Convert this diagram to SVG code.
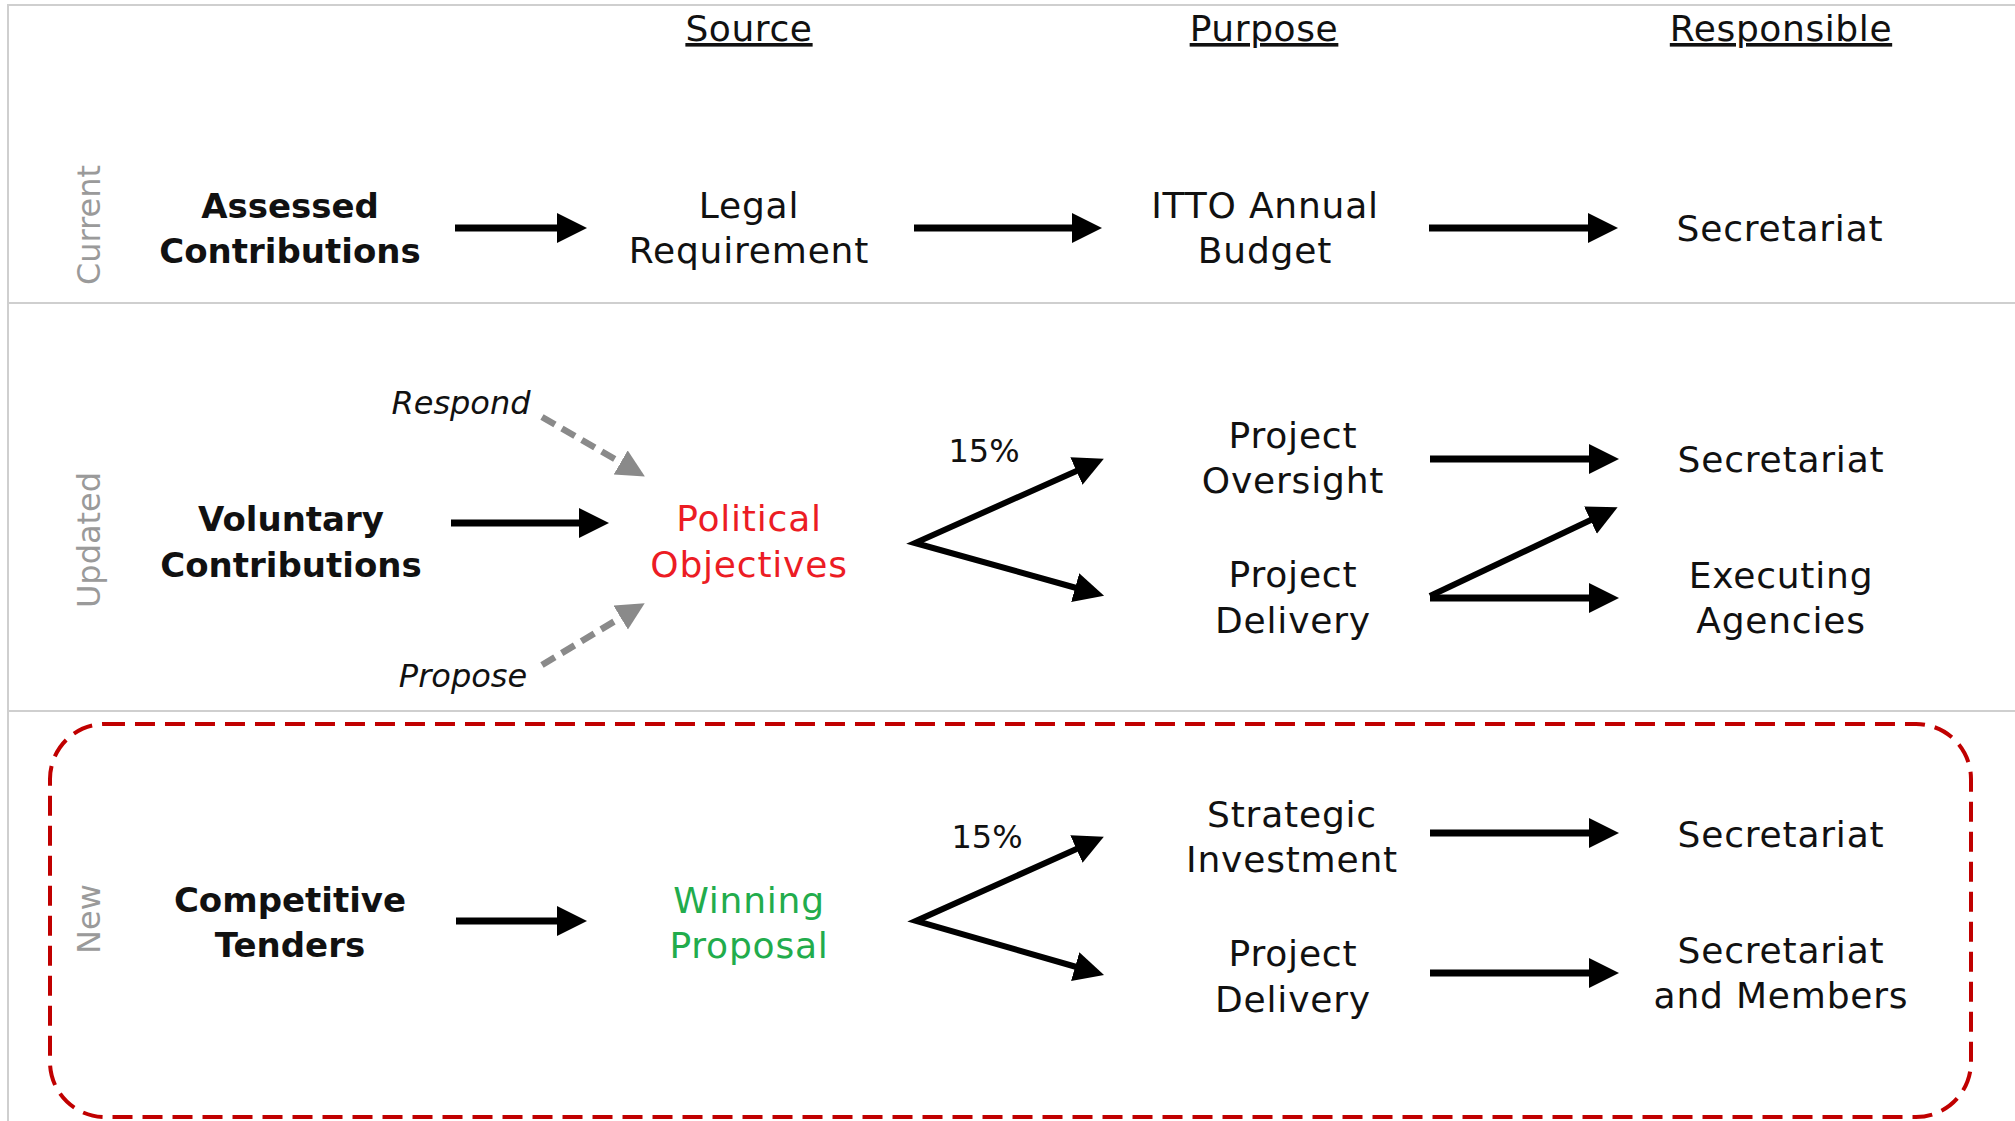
<svg xmlns="http://www.w3.org/2000/svg" width="2015" height="1121" viewBox="0 0 2015 1121">
<style>
  text { font-family: "DejaVu Sans", "Liberation Sans", sans-serif; fill: #111; text-anchor: middle; }
  .t { font-size: 36px; letter-spacing: 0.8px; }
  .b { font-size: 34px; font-weight: bold; }
  .h { font-size: 36px; letter-spacing: 0.6px; text-decoration: underline; }
  .i { font-size: 32px; font-style: italic; }
  .p { font-size: 32px; }
  .side { font-size: 32px; fill: #9a9a9a; }
  .red { fill: #ec1c24; }
  .green { fill: #22ac4c; }
  .frame { stroke: #cfcfcf; stroke-width: 2; fill: none; }
  .arr { stroke: #000; stroke-width: 7; fill: none; marker-end: url(#ah); }
  .diag { stroke: #000; stroke-width: 6; fill: none; stroke-linejoin: miter; marker-end: url(#ah); }
  .vee { stroke: #000; stroke-width: 6; fill: none; stroke-linejoin: miter; marker-start: url(#ahs); marker-end: url(#ah); }
  .dash { stroke: #8a8a8a; stroke-width: 6.5; fill: none; stroke-dasharray: 15 8; marker-end: url(#ahg); }
</style>
<defs>
  <marker id="ah" markerUnits="userSpaceOnUse" markerWidth="32" markerHeight="32" refX="5" refY="15" orient="auto" viewBox="0 0 32 32">
    <path d="M0,0 L30,15 L0,30 z" fill="#000"/>
  </marker>
  <marker id="ahs" markerUnits="userSpaceOnUse" markerWidth="32" markerHeight="32" refX="5" refY="15" orient="auto-start-reverse" viewBox="0 0 32 32">
    <path d="M0,0 L30,15 L0,30 z" fill="#000"/>
  </marker>
  <marker id="ahg" markerUnits="userSpaceOnUse" markerWidth="32" markerHeight="32" refX="5" refY="14" orient="auto" viewBox="0 0 32 32">
    <path d="M0,0 L28,14 L0,28 z" fill="#8a8a8a"/>
  </marker>
</defs>
<rect x="0" y="0" width="2015" height="1121" fill="#fff"/>
<g id="frame">
  <path class="frame" d="M8,1121 L8,5 L2015,5"/>
  <line class="frame" x1="8" y1="303" x2="2015" y2="303"/>
  <line class="frame" x1="8" y1="711" x2="2015" y2="711"/>
  <rect x="50" y="724" width="1921" height="393" rx="55" ry="55" fill="none" stroke="#c00000" stroke-width="4" stroke-dasharray="20 10"/>
</g>
<g id="headers">
  <text class="h" x="749" y="41">Source</text>
  <text class="h" x="1264" y="41">Purpose</text>
  <text class="h" x="1781" y="41">Responsible</text>
</g>
<g id="row-labels">
  <text class="side" transform="translate(100,225) rotate(-90)">Current</text>
  <text class="side" transform="translate(100,540) rotate(-90)">Updated</text>
  <text class="side" transform="translate(100,919) rotate(-90)">New</text>
</g>
<g id="n-assessed"><text class="b" x="290" y="218">Assessed</text><text class="b" x="290" y="263">Contributions</text></g>
<g id="n-legal"><text class="t" x="749" y="218">Legal</text><text class="t" x="749" y="263">Requirement</text></g>
<g id="n-budget"><text class="t" x="1265" y="218">ITTO Annual</text><text class="t" x="1265" y="263">Budget</text></g>
<g id="n-sec1"><text class="t" x="1780" y="241">Secretariat</text></g>

<g id="n-voluntary"><text class="b" x="291" y="531">Voluntary</text><text class="b" x="291" y="577">Contributions</text></g>
<g id="n-respond"><text class="i" x="461" y="414">Respond</text></g>
<g id="n-propose"><text class="i" x="463" y="687">Propose</text></g>
<g id="n-political"><text class="t red" x="749" y="531">Political</text><text class="t red" x="749" y="577">Objectives</text></g>
<g id="n-pct1"><text class="p" x="984" y="462">15%</text></g>
<g id="n-oversight"><text class="t" x="1293" y="448">Project</text><text class="t" x="1293" y="493">Oversight</text></g>
<g id="n-delivery1"><text class="t" x="1293" y="587">Project</text><text class="t" x="1293" y="633">Delivery</text></g>
<g id="n-sec2"><text class="t" x="1781" y="472">Secretariat</text></g>
<g id="n-exec"><text class="t" x="1781" y="588">Executing</text><text class="t" x="1781" y="633">Agencies</text></g>

<g id="n-tenders"><text class="b" x="290" y="912">Competitive</text><text class="b" x="290" y="957">Tenders</text></g>
<g id="n-winning"><text class="t green" x="749" y="913">Winning</text><text class="t green" x="749" y="958">Proposal</text></g>
<g id="n-pct2"><text class="p" x="987" y="848">15%</text></g>
<g id="n-strategic"><text class="t" x="1292" y="827">Strategic</text><text class="t" x="1292" y="872">Investment</text></g>
<g id="n-delivery2"><text class="t" x="1293" y="966">Project</text><text class="t" x="1293" y="1012">Delivery</text></g>
<g id="n-sec3"><text class="t" x="1781" y="847">Secretariat</text></g>
<g id="n-secmem"><text class="t" x="1781" y="963">Secretariat</text><text class="t" x="1781" y="1008">and Members</text></g>

<g id="connectors">
  <line class="arr" x1="455" y1="228" x2="562" y2="228"/>
  <line class="arr" x1="914" y1="228" x2="1077" y2="228"/>
  <line class="arr" x1="1429" y1="228" x2="1593" y2="228"/>

  <line class="arr" x1="451" y1="523" x2="584" y2="523"/>
  <line class="dash" x1="542" y1="417" x2="625" y2="465"/>
  <line class="dash" x1="542" y1="665" x2="625" y2="615"/>
  <path class="vee" d="M1081,469 L915,543 L1080,589"/>
  <line class="arr" x1="1430" y1="459" x2="1594" y2="459"/>
  <line class="diag" x1="1430" y1="596" x2="1595" y2="518"/>
  <line class="arr" x1="1430" y1="598" x2="1594" y2="598"/>

  <line class="arr" x1="456" y1="921" x2="562" y2="921"/>
  <path class="vee" d="M1081,847 L916,921 L1080,968"/>
  <line class="arr" x1="1430" y1="833" x2="1594" y2="833"/>
  <line class="arr" x1="1430" y1="973" x2="1594" y2="973"/>
</g>
</svg>
